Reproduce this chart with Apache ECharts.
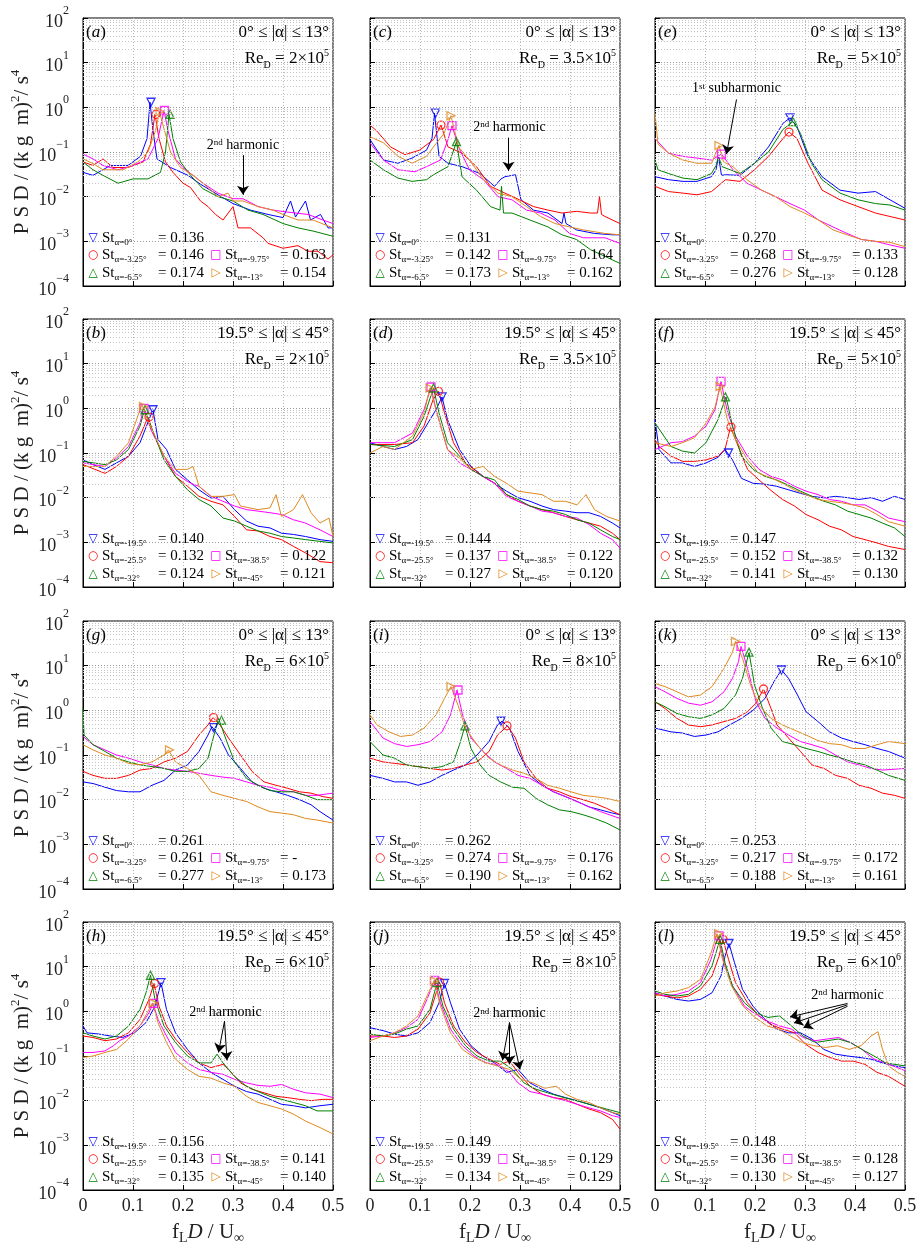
<!DOCTYPE html>
<html>
<head>
<meta charset="utf-8">
<script src="https://cdn.jsdelivr.net/npm/echarts@6.0.0/dist/echarts.min.js"></script>
<style>
  html, body { margin: 0; padding: 0; background: #fff; }
  #chart { width: 922px; height: 1246px; }
</style>
</head>
<body>
<div id="chart"></div>
<script>
// PSD spectra, 12 panels. Each panel: blue, red, magenta, green, orange
// ---- panel (a) Re 2e5, 0..13 deg
const aBlue = [[0,0.035],[0.02,0.03],[0.055,0.05],[0.09,0.05],[0.115,0.08],[0.128,0.2],[0.134,1.3],[0.14,0.3],[0.148,0.07],[0.175,0.045],[0.21,0.03],[0.235,0.019],[0.27,0.011],[0.3,0.007],[0.335,0.005],[0.37,0.004],[0.4,0.0034],[0.415,0.008],[0.425,0.0035],[0.445,0.008],[0.455,0.003],[0.475,0.004],[0.49,0.002],[0.5,0.002]];
const aRed = [[0,0.06],[0.02,0.05],[0.04,0.07],[0.06,0.045],[0.09,0.045],[0.12,0.06],[0.135,0.15],[0.144,0.7],[0.152,0.2],[0.165,0.06],[0.18,0.035],[0.2,0.02],[0.215,0.016],[0.235,0.008],[0.25,0.006],[0.265,0.004],[0.28,0.003],[0.3,0.006],[0.31,0.002],[0.335,0.002],[0.36,0.0012],[0.37,0.0009],[0.4,0.0007],[0.43,0.0008],[0.45,0.0006],[0.47,0.0006],[0.49,0.0004],[0.5,0.0005]];
const aMagenta = [[0,0.09],[0.02,0.07],[0.04,0.05],[0.07,0.04],[0.1,0.05],[0.13,0.07],[0.15,0.2],[0.162,0.85],[0.17,0.3],[0.185,0.07],[0.2,0.045],[0.22,0.03],[0.24,0.02],[0.27,0.012],[0.3,0.009],[0.32,0.009],[0.35,0.006],[0.38,0.005],[0.41,0.0045],[0.45,0.004],[0.48,0.003],[0.5,0.0025]];
const aGreen = [[0,0.06],[0.02,0.04],[0.04,0.03],[0.07,0.02],[0.1,0.025],[0.13,0.025],[0.155,0.035],[0.165,0.1],[0.172,0.7],[0.18,0.2],[0.195,0.06],[0.215,0.03],[0.24,0.015],[0.27,0.01],[0.3,0.008],[0.33,0.005],[0.36,0.004],[0.4,0.0025],[0.43,0.002],[0.46,0.0017],[0.5,0.0013]];
const aOrange = [[0,0.07],[0.02,0.055],[0.04,0.04],[0.08,0.04],[0.11,0.06],[0.13,0.1],[0.145,0.3],[0.153,0.8],[0.16,0.4],[0.175,0.1],[0.195,0.045],[0.22,0.03],[0.24,0.02],[0.27,0.01],[0.29,0.012],[0.3,0.008],[0.32,0.008],[0.35,0.006],[0.38,0.005],[0.4,0.004],[0.43,0.003],[0.46,0.003],[0.5,0.002]];
const stA = [0.136, 0.146, 0.163, 0.174, 0.154];
const pkA = [1.3, 0.7, 0.85, 0.7, 0.8];

// ---- panel (c) Re 3.5e5, 0..13 deg
const cBlue = [[0,0.19],[0.027,0.066],[0.056,0.056],[0.084,0.073],[0.113,0.11],[0.124,0.2],[0.129,0.74],[0.138,0.08],[0.156,0.056],[0.184,0.047],[0.22,0.033],[0.249,0.017],[0.262,0.025],[0.27,0.028],[0.291,0.031],[0.302,0.0085],[0.327,0.005],[0.356,0.0043],[0.384,0.0025],[0.388,0.0043],[0.392,0.0025],[0.413,0.0018],[0.449,0.0015],[0.484,0.0014],[0.5,0.0014]];
const cRed = [[0,0.4],[0.013,0.3],[0.041,0.13],[0.07,0.087],[0.099,0.11],[0.127,0.19],[0.142,0.4],[0.156,0.13],[0.184,0.094],[0.213,0.047],[0.241,0.017],[0.27,0.012],[0.299,0.0085],[0.327,0.006],[0.356,0.005],[0.384,0.0043],[0.413,0.0047],[0.441,0.0043],[0.455,0.0043],[0.459,0.01],[0.463,0.004],[0.47,0.0036],[0.5,0.0025]];
const cMagenta = [[0,0.16],[0.027,0.066],[0.056,0.04],[0.09,0.036],[0.113,0.047],[0.141,0.066],[0.156,0.19],[0.164,0.39],[0.177,0.13],[0.199,0.04],[0.227,0.024],[0.256,0.01],[0.284,0.0085],[0.313,0.005],[0.341,0.0043],[0.37,0.003],[0.399,0.0015],[0.427,0.0012],[0.47,0.0012],[0.5,0.0009]];
const cGreen = [[0,0.066],[0.027,0.04],[0.056,0.026],[0.084,0.022],[0.113,0.024],[0.127,0.031],[0.156,0.047],[0.173,0.17],[0.184,0.028],[0.213,0.014],[0.241,0.006],[0.26,0.005],[0.263,0.017],[0.267,0.0043],[0.284,0.0043],[0.32,0.003],[0.356,0.0021],[0.384,0.0014],[0.413,0.0011],[0.441,0.00065],[0.47,0.00046],[0.5,0.00032]];
const cOrange = [[0,0.22],[0.027,0.16],[0.056,0.08],[0.084,0.056],[0.113,0.08],[0.127,0.13],[0.148,0.26],[0.162,0.65],[0.177,0.13],[0.199,0.066],[0.227,0.024],[0.256,0.012],[0.284,0.01],[0.313,0.006],[0.341,0.0036],[0.37,0.0025],[0.399,0.0021],[0.427,0.0018],[0.47,0.0015],[0.5,0.0014]];
const stC = [0.131, 0.142, 0.164, 0.173, 0.162];
const pkC = [0.74, 0.4, 0.39, 0.17, 0.65];

// ---- panel (e) Re 5e5, 0..13 deg
const eBlue = [[0,0.028],[0.027,0.024],[0.056,0.022],[0.084,0.022],[0.113,0.028],[0.122,0.04],[0.127,0.08],[0.133,0.03],[0.141,0.031],[0.17,0.03],[0.199,0.056],[0.227,0.13],[0.256,0.44],[0.27,0.58],[0.284,0.37],[0.306,0.08],[0.334,0.028],[0.37,0.014],[0.406,0.012],[0.441,0.013],[0.47,0.0085],[0.5,0.0055]];
const eRed = [[0,0.017],[0.027,0.013],[0.056,0.012],[0.084,0.011],[0.113,0.013],[0.141,0.024],[0.17,0.022],[0.199,0.04],[0.227,0.08],[0.256,0.2],[0.268,0.28],[0.284,0.2],[0.306,0.056],[0.334,0.014],[0.37,0.0085],[0.406,0.006],[0.441,0.0043],[0.47,0.0036],[0.5,0.003]];
const eMagenta = [[0,0.2],[0.027,0.094],[0.056,0.08],[0.084,0.073],[0.113,0.066],[0.133,0.09],[0.156,0.04],[0.184,0.02],[0.213,0.014],[0.241,0.01],[0.27,0.007],[0.299,0.005],[0.327,0.003],[0.356,0.0021],[0.384,0.0015],[0.413,0.0011],[0.441,0.001],[0.47,0.00083],[0.5,0.0007]];
const eGreen = [[0,0.066],[0.006,0.04],[0.027,0.033],[0.056,0.026],[0.084,0.024],[0.113,0.033],[0.122,0.05],[0.127,0.08],[0.134,0.047],[0.17,0.033],[0.199,0.056],[0.227,0.1],[0.256,0.32],[0.276,0.48],[0.291,0.26],[0.313,0.056],[0.334,0.024],[0.37,0.012],[0.406,0.0085],[0.441,0.007],[0.47,0.0065],[0.5,0.005]];
const eOrange = [[0,0.74],[0.006,0.15],[0.027,0.094],[0.056,0.066],[0.084,0.056],[0.113,0.056],[0.128,0.14],[0.137,0.06],[0.156,0.047],[0.184,0.024],[0.213,0.014],[0.241,0.01],[0.27,0.006],[0.299,0.0043],[0.327,0.003],[0.356,0.0018],[0.384,0.0014],[0.413,0.0011],[0.441,0.001],[0.47,0.00095],[0.5,0.00076]];
const stE = [0.270, 0.268, 0.133, 0.276, 0.128];
const pkE = [0.58, 0.28, 0.09, 0.48, 0.14];

// ---- panel (b) Re 2e5, 19.5..45 deg
const bBlue = [[0,0.07],[0.02,0.055],[0.044,0.043],[0.067,0.06],[0.091,0.085],[0.114,0.17],[0.132,0.56],[0.14,0.93],[0.15,0.2],[0.167,0.12],[0.185,0.043],[0.209,0.025],[0.232,0.015],[0.256,0.0098],[0.28,0.0107],[0.303,0.0054],[0.327,0.003],[0.35,0.0023],[0.374,0.0021],[0.397,0.0016],[0.421,0.0015],[0.445,0.00135],[0.474,0.00115],[0.5,0.00105]];
const bRed = [[0,0.055],[0.044,0.035],[0.067,0.05],[0.091,0.085],[0.114,0.24],[0.13,0.64],[0.14,0.28],[0.162,0.085],[0.185,0.03],[0.209,0.018],[0.232,0.0107],[0.256,0.0083],[0.28,0.0069],[0.303,0.0038],[0.327,0.0019],[0.35,0.0018],[0.374,0.00135],[0.397,0.00115],[0.421,0.00081],[0.445,0.00058],[0.474,0.00037],[0.5,0.00035]];
const bMagenta = [[0,0.06],[0.044,0.05],[0.067,0.077],[0.091,0.14],[0.114,0.47],[0.121,1.0],[0.136,0.33],[0.162,0.085],[0.185,0.035],[0.209,0.023],[0.22,0.02],[0.232,0.018],[0.256,0.0107],[0.28,0.0083],[0.303,0.0065],[0.327,0.0054],[0.35,0.005],[0.374,0.0046],[0.397,0.0042],[0.421,0.0032],[0.445,0.0027],[0.474,0.0019],[0.5,0.00135]];
const bGreen = [[0,0.065],[0.044,0.055],[0.067,0.07],[0.091,0.12],[0.114,0.4],[0.123,0.93],[0.136,0.4],[0.162,0.07],[0.185,0.03],[0.209,0.015],[0.232,0.0091],[0.256,0.0065],[0.28,0.0035],[0.303,0.003],[0.327,0.0023],[0.35,0.0018],[0.374,0.0016],[0.397,0.00135],[0.421,0.00125],[0.445,0.00115],[0.474,0.00105],[0.5,0.00097]];
const bOrange = [[0,0.05],[0.044,0.05],[0.067,0.085],[0.091,0.17],[0.114,0.93],[0.118,1.2],[0.132,0.47],[0.162,0.085],[0.185,0.043],[0.209,0.043],[0.22,0.05],[0.232,0.018],[0.256,0.0107],[0.28,0.0107],[0.303,0.0117],[0.315,0.0065],[0.35,0.0054],[0.374,0.0059],[0.386,0.0117],[0.397,0.0038],[0.421,0.0054],[0.439,0.0117],[0.456,0.0046],[0.474,0.0027],[0.492,0.0035],[0.5,0.00135]];
const stB = [0.140, 0.132, 0.122, 0.124, 0.121];
const pkB = [0.93, 0.64, 1.0, 0.93, 1.1];

// ---- panel (d) Re 3.5e5, 19.5..45 deg
const dBlue = [[0,0.17],[0.026,0.14],[0.049,0.12],[0.073,0.14],[0.096,0.2],[0.12,0.56],[0.132,0.93],[0.144,1.8],[0.155,0.56],[0.179,0.12],[0.202,0.05],[0.226,0.03],[0.249,0.021],[0.273,0.014],[0.296,0.01],[0.32,0.0083],[0.344,0.0065],[0.367,0.0054],[0.391,0.005],[0.414,0.0046],[0.438,0.0046],[0.461,0.0038],[0.485,0.0027],[0.5,0.0021]];
const dRed = [[0,0.155],[0.049,0.155],[0.085,0.17],[0.108,0.4],[0.126,1.55],[0.137,2.4],[0.149,0.79],[0.167,0.17],[0.191,0.06],[0.226,0.03],[0.249,0.021],[0.273,0.0117],[0.296,0.0083],[0.32,0.0065],[0.344,0.0054],[0.367,0.0046],[0.391,0.0038],[0.414,0.0032],[0.438,0.0027],[0.461,0.0023],[0.485,0.0016],[0.5,0.00115]];
const dMagenta = [[0,0.17],[0.049,0.17],[0.085,0.28],[0.108,0.93],[0.122,3.0],[0.132,0.93],[0.155,0.12],[0.179,0.06],[0.202,0.043],[0.226,0.03],[0.249,0.021],[0.273,0.0107],[0.296,0.0083],[0.32,0.0065],[0.344,0.005],[0.367,0.0046],[0.391,0.0038],[0.414,0.0035],[0.438,0.0025],[0.461,0.0016],[0.485,0.00115],[0.5,0.00074]];
const dGreen = [[0,0.155],[0.049,0.14],[0.085,0.2],[0.108,0.66],[0.127,2.85],[0.138,0.79],[0.155,0.17],[0.179,0.085],[0.202,0.043],[0.226,0.03],[0.249,0.025],[0.273,0.0117],[0.296,0.0091],[0.32,0.0065],[0.344,0.0054],[0.367,0.005],[0.391,0.0042],[0.414,0.0032],[0.438,0.0027],[0.461,0.0019],[0.485,0.00135],[0.5,0.00115]];
const dOrange = [[0,0.1],[0.026,0.14],[0.049,0.12],[0.085,0.24],[0.108,0.79],[0.12,2.85],[0.132,0.93],[0.155,0.12],[0.179,0.077],[0.202,0.043],[0.226,0.05],[0.249,0.03],[0.273,0.021],[0.296,0.014],[0.32,0.0128],[0.344,0.0117],[0.367,0.0083],[0.391,0.0083],[0.414,0.0069],[0.432,0.0117],[0.449,0.0054],[0.473,0.0038],[0.5,0.003]];
const stD = [0.144, 0.137, 0.122, 0.127, 0.120];
const pkD = [1.8, 2.4, 3.0, 2.85, 2.85];

// ---- panel (f) Re 5e5, 19.5..45 deg
const fBlue = [[0,0.56],[0.008,0.12],[0.032,0.06],[0.055,0.06],[0.079,0.05],[0.102,0.06],[0.126,0.08],[0.14,0.12],[0.155,0.07],[0.173,0.027],[0.196,0.021],[0.22,0.02],[0.243,0.018],[0.267,0.015],[0.291,0.0125],[0.314,0.0107],[0.338,0.0099],[0.361,0.0107],[0.385,0.01],[0.408,0.0091],[0.432,0.01],[0.455,0.0083],[0.479,0.0107],[0.5,0.0091]];
const fRed = [[0,0.2],[0.008,0.14],[0.032,0.085],[0.055,0.065],[0.079,0.065],[0.102,0.07],[0.126,0.085],[0.14,0.12],[0.151,0.38],[0.161,0.2],[0.185,0.043],[0.208,0.025],[0.232,0.0145],[0.255,0.0091],[0.279,0.0065],[0.302,0.0042],[0.326,0.0032],[0.349,0.0023],[0.373,0.0019],[0.396,0.00135],[0.42,0.00115],[0.444,0.00097],[0.467,0.00081],[0.5,0.00069]];
const fMagenta = [[0,0.12],[0.032,0.17],[0.055,0.18],[0.079,0.24],[0.102,0.4],[0.12,0.93],[0.132,4.0],[0.144,0.93],[0.161,0.24],[0.185,0.085],[0.208,0.043],[0.232,0.03],[0.255,0.025],[0.279,0.018],[0.302,0.014],[0.326,0.0117],[0.349,0.0091],[0.373,0.0083],[0.396,0.0069],[0.42,0.0069],[0.444,0.005],[0.467,0.0035],[0.5,0.0029]];
const fGreen = [[0,0.47],[0.032,0.14],[0.055,0.11],[0.079,0.1],[0.102,0.17],[0.126,0.56],[0.142,1.8],[0.155,0.4],[0.173,0.085],[0.196,0.043],[0.22,0.03],[0.243,0.025],[0.267,0.019],[0.291,0.014],[0.314,0.0107],[0.338,0.0083],[0.361,0.0069],[0.385,0.005],[0.408,0.0042],[0.432,0.0035],[0.455,0.0027],[0.479,0.0021],[0.5,0.00135]];
const fOrange = [[0,0.17],[0.032,0.14],[0.055,0.17],[0.079,0.22],[0.102,0.47],[0.12,1.05],[0.13,3.1],[0.144,0.6],[0.161,0.2],[0.185,0.07],[0.208,0.035],[0.232,0.028],[0.255,0.021],[0.279,0.015],[0.302,0.0117],[0.326,0.0091],[0.349,0.0083],[0.373,0.0077],[0.396,0.0069],[0.42,0.0059],[0.444,0.0042],[0.467,0.0029],[0.5,0.0023]];
const stF = [0.147, 0.152, 0.132, 0.141, 0.130];
const pkF = [0.1, 0.38, 4.0, 1.8, 3.1];

// ---- panel (g) Re 6e5, 0..13 deg
const gBlue = [[0,0.025],[0.02,0.023],[0.044,0.019],[0.067,0.016],[0.091,0.015],[0.114,0.015],[0.138,0.021],[0.162,0.027],[0.185,0.046],[0.209,0.06],[0.232,0.12],[0.25,0.28],[0.258,0.43],[0.274,0.24],[0.291,0.1],[0.315,0.05],[0.338,0.025],[0.362,0.018],[0.386,0.015],[0.409,0.0125],[0.433,0.01],[0.456,0.0077],[0.474,0.0054],[0.5,0.0035]];
const gRed = [[0,0.043],[0.02,0.035],[0.044,0.03],[0.067,0.03],[0.091,0.035],[0.114,0.046],[0.138,0.05],[0.162,0.07],[0.185,0.085],[0.209,0.12],[0.232,0.28],[0.25,0.47],[0.26,0.69],[0.274,0.47],[0.291,0.24],[0.315,0.1],[0.338,0.043],[0.362,0.025],[0.386,0.021],[0.409,0.018],[0.433,0.015],[0.456,0.014],[0.48,0.0117],[0.5,0.0107]];
const gMagenta = [[0,0.26],[0.02,0.17],[0.044,0.13],[0.067,0.1],[0.091,0.085],[0.114,0.07],[0.138,0.06],[0.162,0.05],[0.185,0.046],[0.209,0.043],[0.232,0.039],[0.256,0.035],[0.28,0.032],[0.303,0.03],[0.327,0.025],[0.35,0.021],[0.374,0.019],[0.397,0.016],[0.421,0.015],[0.445,0.0125],[0.468,0.0125],[0.5,0.014]];
const gGreen = [[0,1.1],[0.002,0.28],[0.02,0.17],[0.044,0.12],[0.067,0.085],[0.091,0.07],[0.114,0.06],[0.138,0.055],[0.162,0.05],[0.185,0.043],[0.209,0.043],[0.232,0.05],[0.25,0.085],[0.262,0.28],[0.271,0.66],[0.285,0.24],[0.303,0.07],[0.327,0.03],[0.35,0.021],[0.374,0.016],[0.397,0.015],[0.421,0.015],[0.445,0.0125],[0.468,0.01],[0.5,0.01]];
const gOrange = [[0,0.17],[0.02,0.13],[0.044,0.1],[0.067,0.085],[0.091,0.065],[0.114,0.06],[0.138,0.07],[0.162,0.1],[0.171,0.13],[0.185,0.07],[0.209,0.05],[0.232,0.035],[0.256,0.015],[0.28,0.0125],[0.303,0.0107],[0.327,0.0091],[0.35,0.0069],[0.374,0.0054],[0.397,0.005],[0.421,0.0046],[0.445,0.0038],[0.468,0.0035],[0.5,0.003]];
const stG = [0.261, 0.261, null, 0.277, 0.173];
const pkG = [0.41, 0.69, null, 0.6, 0.13];

// ---- panel (i) Re 8e5, 0..13 deg
const iBlue = [[0,0.035],[0.026,0.03],[0.049,0.025],[0.073,0.025],[0.096,0.021],[0.12,0.025],[0.144,0.035],[0.167,0.046],[0.191,0.06],[0.214,0.1],[0.238,0.2],[0.255,0.47],[0.264,0.57],[0.279,0.4],[0.296,0.12],[0.32,0.035],[0.344,0.021],[0.367,0.015],[0.391,0.0117],[0.414,0.0091],[0.438,0.0069],[0.461,0.0059],[0.485,0.005],[0.5,0.0046]];
const iRed = [[0,0.085],[0.026,0.07],[0.049,0.065],[0.073,0.06],[0.096,0.055],[0.12,0.05],[0.144,0.046],[0.167,0.05],[0.191,0.06],[0.214,0.07],[0.238,0.12],[0.255,0.28],[0.275,0.45],[0.291,0.24],[0.308,0.07],[0.332,0.03],[0.355,0.018],[0.379,0.015],[0.402,0.0117],[0.426,0.01],[0.449,0.0083],[0.473,0.0064],[0.5,0.0046]];
const iMagenta = [[0,0.56],[0.026,0.24],[0.049,0.18],[0.073,0.155],[0.096,0.17],[0.12,0.2],[0.144,0.33],[0.161,0.79],[0.174,2.85],[0.185,0.79],[0.202,0.24],[0.226,0.12],[0.249,0.07],[0.273,0.05],[0.296,0.035],[0.32,0.03],[0.344,0.021],[0.367,0.015],[0.391,0.0117],[0.414,0.0091],[0.438,0.0069],[0.461,0.0054],[0.5,0.0038]];
const iGreen = [[0,0.2],[0.026,0.1],[0.049,0.085],[0.073,0.06],[0.096,0.055],[0.12,0.05],[0.144,0.055],[0.167,0.07],[0.179,0.17],[0.19,0.45],[0.202,0.14],[0.22,0.06],[0.238,0.035],[0.261,0.025],[0.285,0.019],[0.308,0.018],[0.332,0.0107],[0.355,0.0077],[0.379,0.0059],[0.402,0.0054],[0.426,0.0046],[0.449,0.0038],[0.473,0.003],[0.5,0.0021]];
const iOrange = [[0,0.79],[0.014,0.47],[0.038,0.33],[0.061,0.26],[0.085,0.28],[0.108,0.4],[0.132,0.79],[0.149,1.85],[0.162,3.4],[0.176,1.3],[0.191,0.4],[0.214,0.17],[0.238,0.085],[0.261,0.06],[0.285,0.046],[0.308,0.039],[0.332,0.03],[0.355,0.021],[0.379,0.018],[0.402,0.015],[0.426,0.0125],[0.449,0.0117],[0.473,0.0107],[0.5,0.0091]];
const stI = [0.262, 0.274, 0.176, 0.190, 0.162];
const pkI = [0.57, 0.45, 2.85, 0.45, 3.4];

// ---- panel (k) Re 6e6, 0..13 deg
const kBlue = [[0,0.4],[0.032,0.33],[0.055,0.31],[0.079,0.26],[0.102,0.28],[0.126,0.33],[0.149,0.47],[0.173,0.66],[0.196,1.0],[0.22,1.85],[0.238,4.4],[0.253,8],[0.267,5.2],[0.285,2.2],[0.302,0.93],[0.326,0.56],[0.349,0.33],[0.373,0.24],[0.396,0.2],[0.42,0.17],[0.444,0.14],[0.467,0.12],[0.5,0.085]];
const kRed = [[0,1.55],[0.02,1.1],[0.044,0.66],[0.067,0.47],[0.091,0.43],[0.114,0.47],[0.138,0.56],[0.161,0.66],[0.185,0.93],[0.202,1.45],[0.217,3.0],[0.232,1.1],[0.244,0.47],[0.267,0.24],[0.291,0.12],[0.314,0.06],[0.338,0.05],[0.361,0.035],[0.385,0.03],[0.408,0.021],[0.432,0.018],[0.455,0.014],[0.479,0.0125],[0.5,0.0107]];
const kMagenta = [[0,3.4],[0.02,2.6],[0.044,1.85],[0.067,1.45],[0.091,1.3],[0.114,1.55],[0.138,2.6],[0.155,5.2],[0.167,12.3],[0.172,27],[0.185,8.7],[0.202,1.55],[0.22,0.66],[0.244,0.4],[0.267,0.28],[0.291,0.2],[0.314,0.17],[0.338,0.14],[0.361,0.1],[0.385,0.07],[0.408,0.06],[0.432,0.05],[0.455,0.046],[0.5,0.05]];
const kGreen = [[0,1.55],[0.02,1.2],[0.044,0.85],[0.067,0.72],[0.091,0.66],[0.114,0.79],[0.138,1.1],[0.161,2.2],[0.175,5.2],[0.188,20],[0.199,3.7],[0.214,1.2],[0.232,0.4],[0.255,0.2],[0.279,0.17],[0.302,0.14],[0.326,0.12],[0.349,0.1],[0.373,0.085],[0.396,0.07],[0.42,0.06],[0.444,0.046],[0.467,0.035],[0.5,0.027]];
const kOrange = [[0,4],[0.02,3.4],[0.044,2.6],[0.067,2.0],[0.091,2.2],[0.114,3.4],[0.138,8.7],[0.155,20],[0.161,35],[0.175,14.6],[0.191,3.7],[0.208,1.3],[0.232,0.66],[0.255,0.47],[0.279,0.36],[0.302,0.28],[0.326,0.21],[0.349,0.18],[0.373,0.17],[0.396,0.14],[0.42,0.14],[0.444,0.17],[0.467,0.2],[0.5,0.18]];
const stK = [0.253, 0.217, 0.172, 0.188, 0.161];
const pkK = [8, 3.0, 27, 20, 35];

// ---- panel (h) Re 6e5, 19.5..45 deg
const hBlue = [[0,0.47],[0.008,0.33],[0.032,0.31],[0.055,0.28],[0.079,0.26],[0.103,0.33],[0.126,0.56],[0.144,1.3],[0.156,4.4],[0.167,1.1],[0.185,0.33],[0.209,0.14],[0.232,0.07],[0.256,0.043],[0.28,0.03],[0.303,0.021],[0.327,0.016],[0.35,0.014],[0.374,0.0107],[0.397,0.0083],[0.421,0.0077],[0.445,0.0069],[0.474,0.0077],[0.5,0.0083]];
const hRed = [[0,0.28],[0.02,0.26],[0.044,0.22],[0.067,0.24],[0.091,0.33],[0.114,0.66],[0.132,1.85],[0.142,4.2],[0.152,1.3],[0.167,0.47],[0.185,0.24],[0.209,0.12],[0.232,0.07],[0.256,0.055],[0.28,0.065],[0.291,0.05],[0.315,0.025],[0.338,0.018],[0.362,0.015],[0.386,0.0125],[0.409,0.0117],[0.433,0.0107],[0.456,0.01],[0.48,0.0107],[0.5,0.0107]];
const hMagenta = [[0,0.12],[0.02,0.12],[0.044,0.13],[0.061,0.17],[0.073,0.22],[0.091,0.28],[0.114,0.47],[0.132,0.93],[0.14,1.5],[0.15,0.66],[0.167,0.28],[0.185,0.12],[0.209,0.07],[0.232,0.05],[0.256,0.043],[0.28,0.039],[0.303,0.03],[0.327,0.025],[0.35,0.022],[0.374,0.021],[0.397,0.023],[0.421,0.018],[0.445,0.015],[0.474,0.014],[0.5,0.0117]];
const hGreen = [[0,0.33],[0.02,0.28],[0.044,0.24],[0.067,0.28],[0.091,0.47],[0.114,1.1],[0.126,2.6],[0.135,6.4],[0.144,1.85],[0.162,0.47],[0.185,0.2],[0.209,0.1],[0.232,0.07],[0.256,0.07],[0.268,0.11],[0.28,0.07],[0.303,0.035],[0.327,0.021],[0.35,0.016],[0.374,0.0125],[0.397,0.0107],[0.421,0.0091],[0.445,0.0077],[0.468,0.0059],[0.5,0.0059]];
const hOrange = [[0,0.093],[0.02,0.1],[0.044,0.12],[0.067,0.14],[0.091,0.24],[0.114,0.47],[0.132,1.1],[0.139,1.55],[0.15,0.56],[0.167,0.2],[0.185,0.085],[0.209,0.05],[0.232,0.035],[0.256,0.032],[0.28,0.025],[0.303,0.021],[0.327,0.0125],[0.35,0.0091],[0.374,0.0077],[0.397,0.0065],[0.421,0.005],[0.445,0.0035],[0.474,0.0025],[0.5,0.0018]];
const stH = [0.156, 0.143, 0.141, 0.135, 0.140];
const pkH = [4.4, 4.2, 1.5, 6.4, 1.55];

// ---- panel (j) Re 8e5, 19.5..45 deg
const jBlue = [[0,0.43],[0.026,0.37],[0.049,0.31],[0.073,0.28],[0.096,0.33],[0.12,0.56],[0.138,1.55],[0.149,4.2],[0.161,1.55],[0.179,0.4],[0.202,0.17],[0.226,0.1],[0.249,0.07],[0.273,0.043],[0.296,0.05],[0.32,0.025],[0.344,0.018],[0.367,0.014],[0.391,0.0117],[0.414,0.01],[0.438,0.0083],[0.461,0.0069],[0.485,0.0054],[0.5,0.0046]];
const jRed = [[0,0.28],[0.026,0.28],[0.049,0.26],[0.073,0.28],[0.096,0.4],[0.12,0.93],[0.139,4.5],[0.149,1.55],[0.167,0.47],[0.191,0.2],[0.214,0.12],[0.238,0.085],[0.261,0.065],[0.279,0.077],[0.296,0.043],[0.32,0.021],[0.344,0.014],[0.367,0.0117],[0.391,0.0107],[0.414,0.0083],[0.438,0.0065],[0.461,0.0054],[0.485,0.0038],[0.5,0.0023]];
const jMagenta = [[0,0.26],[0.026,0.28],[0.049,0.33],[0.073,0.43],[0.096,0.66],[0.114,1.85],[0.129,4.9],[0.141,1.55],[0.161,0.4],[0.185,0.17],[0.208,0.1],[0.232,0.07],[0.255,0.065],[0.279,0.043],[0.296,0.025],[0.32,0.016],[0.344,0.014],[0.367,0.0117],[0.391,0.01],[0.414,0.0083],[0.438,0.0069],[0.461,0.0059],[0.485,0.0046],[0.5,0.0042]];
const jGreen = [[0,0.31],[0.026,0.28],[0.049,0.31],[0.073,0.4],[0.096,0.47],[0.12,1.1],[0.134,4.4],[0.146,1.3],[0.167,0.4],[0.191,0.17],[0.214,0.1],[0.238,0.077],[0.261,0.077],[0.285,0.05],[0.308,0.025],[0.332,0.018],[0.355,0.015],[0.379,0.0125],[0.402,0.0107],[0.426,0.0091],[0.449,0.0077],[0.473,0.0065],[0.5,0.0054]];
const jOrange = [[0,0.22],[0.026,0.28],[0.049,0.33],[0.073,0.47],[0.096,0.79],[0.114,2.2],[0.128,4.8],[0.141,1.3],[0.161,0.33],[0.185,0.14],[0.208,0.093],[0.232,0.07],[0.255,0.06],[0.279,0.05],[0.302,0.03],[0.326,0.025],[0.349,0.019],[0.373,0.021],[0.391,0.014],[0.414,0.0107],[0.438,0.0091],[0.461,0.0069],[0.485,0.0054],[0.5,0.005]];
const stJ = [0.149, 0.139, 0.129, 0.134, 0.129];
const pkJ = [4.2, 4.5, 4.9, 4.4, 4.8];

// ---- panel (l) Re 6e6, 19.5..45 deg
const lBlue = [[0,2.6],[0.02,2.2],[0.044,1.85],[0.067,1.7],[0.091,1.85],[0.114,2.6],[0.132,6.2],[0.14,17],[0.148,33],[0.159,12.3],[0.175,3.1],[0.196,1.3],[0.22,0.66],[0.244,0.4],[0.267,0.33],[0.291,0.33],[0.314,0.24],[0.338,0.14],[0.361,0.11],[0.385,0.1],[0.408,0.093],[0.432,0.085],[0.455,0.07],[0.479,0.06],[0.5,0.055]];
const lRed = [[0,2.4],[0.02,2.2],[0.044,2.0],[0.067,2.2],[0.091,3.1],[0.114,6.2],[0.128,17],[0.136,41],[0.147,14.6],[0.161,4.4],[0.185,1.55],[0.208,0.79],[0.232,0.5],[0.255,0.4],[0.279,0.33],[0.302,0.18],[0.326,0.12],[0.349,0.093],[0.373,0.077],[0.396,0.077],[0.42,0.065],[0.444,0.043],[0.467,0.035],[0.5,0.021]];
const lMagenta = [[0,2.6],[0.02,2.2],[0.044,2.4],[0.067,2.85],[0.091,4.4],[0.112,14.6],[0.126,49],[0.138,12.3],[0.155,3.7],[0.179,1.3],[0.202,0.85],[0.226,0.6],[0.249,0.47],[0.273,0.4],[0.296,0.26],[0.32,0.22],[0.344,0.24],[0.367,0.26],[0.391,0.2],[0.414,0.14],[0.438,0.085],[0.461,0.07],[0.5,0.047]];
const lGreen = [[0,2.85],[0.02,2.4],[0.044,2.2],[0.067,2.4],[0.091,3.7],[0.114,10.4],[0.13,41],[0.14,12.3],[0.155,3.7],[0.179,1.55],[0.202,0.93],[0.226,0.73],[0.249,0.79],[0.273,0.47],[0.296,0.28],[0.32,0.2],[0.344,0.22],[0.367,0.24],[0.391,0.2],[0.414,0.14],[0.438,0.1],[0.461,0.07],[0.5,0.06]];
const lOrange = [[0,2.2],[0.02,2.6],[0.044,2.85],[0.067,3.4],[0.091,5.2],[0.112,20],[0.124,55],[0.135,14.6],[0.153,3.7],[0.176,1.3],[0.2,0.73],[0.224,0.47],[0.247,0.4],[0.271,0.28],[0.294,0.2],[0.318,0.17],[0.341,0.155],[0.365,0.17],[0.388,0.14],[0.412,0.17],[0.432,0.28],[0.446,0.35],[0.455,0.14],[0.467,0.06],[0.485,0.043],[0.5,0.035]];
const stL = [0.148, 0.136, 0.128, 0.130, 0.127];
const pkL = [33, 41, 49, 41, 55];

// legend labels (order: blue, red, magenta, green, orange)
const anglesSmall = ['0°', '-3.25°', '-9.75°', '-6.5°', '-13°'];
const anglesLarge = ['-19.5°', '-25.5°', '-38.5°', '-32°', '-45°'];
const rangeSmall = '0° ≤ |α| ≤ 13°';
const rangeLarge = '19.5° ≤ |α| ≤ 45°';

const colors = ['#0000ff', '#ff0000', '#ff00ff', '#008000', '#e0891e'];
const FONT = '"Liberation Serif", "Times New Roman", serif';

const colLeft = [83, 370, 655];
const rowTop = [18, 319, 621, 922];
const W = 250, H = 268;

const panels = [
  { id: 'a', col: 0, row: 0, small: true, re: ['2', '5'], lines: [aBlue, aRed, aMagenta, aGreen, aOrange], st: stA, pk: pkA,
    note: { text: '2{sup|nd} harmonic', at: [0.32, 0.14], arrows: [[0.32, 0.085, 0.32, 0.011]] } },
  { id: 'c', col: 1, row: 0, small: true, re: ['3.5', '5'], lines: [cBlue, cRed, cMagenta, cGreen, cOrange], st: stC, pk: pkC,
    note: { text: '2{sup|nd} harmonic', at: [0.279, 0.36], arrows: [[0.277, 0.21, 0.277, 0.038]] } },
  { id: 'e', col: 2, row: 0, small: true, re: ['5', '5'], lines: [eBlue, eRed, eMagenta, eGreen, eOrange], st: stE, pk: pkE,
    note: { text: '1{sup|st} subharmonic', at: [0.163, 2.6], arrows: [[0.163, 1.5, 0.143, 0.09]] } },
  { id: 'b', col: 0, row: 1, small: false, re: ['2', '5'], lines: [bBlue, bRed, bMagenta, bGreen, bOrange], st: stB, pk: pkB },
  { id: 'd', col: 1, row: 1, small: false, re: ['3.5', '5'], lines: [dBlue, dRed, dMagenta, dGreen, dOrange], st: stD, pk: pkD },
  { id: 'f', col: 2, row: 1, small: false, re: ['5', '5'], lines: [fBlue, fRed, fMagenta, fGreen, fOrange], st: stF, pk: pkF },
  { id: 'g', col: 0, row: 2, small: true, re: ['6', '5'], lines: [gBlue, gRed, gMagenta, gGreen, gOrange], st: stG, pk: pkG },
  { id: 'i', col: 1, row: 2, small: true, re: ['8', '5'], lines: [iBlue, iRed, iMagenta, iGreen, iOrange], st: stI, pk: pkI },
  { id: 'k', col: 2, row: 2, small: true, re: ['6', '6'], lines: [kBlue, kRed, kMagenta, kGreen, kOrange], st: stK, pk: pkK },
  { id: 'h', col: 0, row: 3, small: false, re: ['6', '5'], lines: [hBlue, hRed, hMagenta, hGreen, hOrange], st: stH, pk: pkH,
    note: { text: '2{sup|nd} harmonic', at: [0.285, 0.95], arrows: [[0.283, 0.6, 0.271, 0.12], [0.283, 0.6, 0.288, 0.08]] } },
  { id: 'j', col: 1, row: 3, small: false, re: ['8', '5'], lines: [jBlue, jRed, jMagenta, jGreen, jOrange], st: stJ, pk: pkJ,
    note: { text: '2{sup|nd} harmonic', at: [0.279, 0.88], arrows: [[0.279, 0.56, 0.265, 0.08], [0.279, 0.56, 0.279, 0.065], [0.279, 0.56, 0.3, 0.05]] } },
  { id: 'l', col: 2, row: 3, small: false, re: ['6', '6'], lines: [lBlue, lRed, lMagenta, lGreen, lOrange], st: stL, pk: pkL,
    note: { text: '2{sup|nd} harmonic', at: [0.385, 2.3], arrows: [[0.385, 1.5, 0.27, 0.75], [0.385, 1.4, 0.278, 0.55], [0.385, 1.3, 0.297, 0.43]] } }
];

// marker shapes: blue down-triangle, red circle, magenta square, green up-triangle, orange right-triangle
const markSym = [
  { symbol: 'triangle', rotate: 180 }, { symbol: 'circle', rotate: 0 }, { symbol: 'rect', rotate: 0 },
  { symbol: 'triangle', rotate: 0 }, { symbol: 'triangle', rotate: -90 }
];
const legendGlyph = ['▽', '○', '□', '△', '▷'];
// legend slot (row, col) per series
const legendSlot = [[0, 0], [1, 0], [1, 1], [2, 0], [2, 1]];

const minorVals = [];
for (let e = -4; e < 2; e++) for (let m = 2; m <= 9; m++) minorVals.push(m * Math.pow(10, e));

const grids = [], xAxes = [], yAxes = [], series = [], graphics = [];
const supRich = {
  sup: { fontSize: 10, fontFamily: FONT, fill: '#000', color: '#000', verticalAlign: 'top', lineHeight: 10 },
  sub: { fontSize: 10, fontFamily: FONT, fill: '#000', color: '#000', verticalAlign: 'bottom', lineHeight: 10 },
  it: { fontSize: 17, fontFamily: FONT, fontStyle: 'italic', fill: '#000', color: '#000', lineHeight: 22 }
};

panels.forEach((p, i) => {
  const L = colLeft[p.col], T = rowTop[p.row];
  grids.push({ left: L, top: T, width: W, height: H, show: true, borderColor: '#000', borderWidth: 1, backgroundColor: 'transparent' });
  xAxes.push({
    gridIndex: i, type: 'value', min: 0, max: 0.5, interval: 0.1,
    axisLine: { show: true, lineStyle: { color: '#000', width: 1 } },
    axisTick: { show: true, inside: true, length: 5, lineStyle: { color: '#000' } },
    axisLabel: { show: p.row === 3, fontFamily: FONT, fontSize: 18, color: '#222', margin: 7,
      formatter: v => (v === 0 ? '0' : v.toFixed(1)) },
    splitLine: { show: true, lineStyle: { type: [1, 2], color: '#b5b5b5', width: 1 } }
  });
  yAxes.push({
    gridIndex: i, type: 'log', logBase: 10, min: 1e-4, max: 1e2,
    axisLine: { show: true, lineStyle: { color: '#000', width: 1 } },
    axisTick: { show: true, inside: true, length: 5, lineStyle: { color: '#000' } },
    axisLabel: {
      show: p.col === 0, margin: 14,
      formatter: v => {
        const e = Math.round(Math.log10(v));
        return '{b|10}{s|' + (e < 0 ? '−' + (-e) : e) + '}';
      },
      rich: {
        b: { fontFamily: FONT, fontSize: 18, color: '#222', lineHeight: 26, verticalAlign: 'bottom' },
        s: { fontFamily: FONT, fontSize: 12, color: '#222', lineHeight: 12, verticalAlign: 'top' }
      }
    },
    splitLine: { show: true, lineStyle: { type: [1, 2], color: '#9a9a9a', width: 1 } }
  });

  // minor grid lines at 2..9 x 10^n
  series.push({
    type: 'line', xAxisIndex: i, yAxisIndex: i, data: [[0, 1e-4]], showSymbol: false, silent: true,
    lineStyle: { opacity: 0 }, z: 1, animation: false,
    markLine: {
      silent: true, symbol: 'none', animation: false, label: { show: false },
      lineStyle: { type: [1, 2], color: '#c4c4c4', width: 1 },
      data: minorVals.map(v => ({ yAxis: v }))
    }
  });

  p.lines.forEach((d, k) => {
    series.push({
      type: 'line', xAxisIndex: i, yAxisIndex: i, data: d, showSymbol: false, animation: false,
      lineStyle: { color: colors[k], width: 1 }, z: 3, silent: true
    });
  });

  const pts = [];
  p.st.forEach((s, k) => {
    if (s == null) return;
    pts.push({
      value: [s, p.pk[k]], symbol: markSym[k].symbol, symbolRotate: markSym[k].rotate,
      itemStyle: { color: 'rgba(0,0,0,0)', borderColor: colors[k], borderWidth: 1.3 }
    });
  });
  series.push({ type: 'scatter', xAxisIndex: i, yAxisIndex: i, data: pts, symbolSize: 8, z: 4, silent: true, animation: false });

  if (p.note) {
    series.push({
      type: 'line', xAxisIndex: i, yAxisIndex: i, data: [[0, 1e-4]], showSymbol: false, silent: true,
      lineStyle: { opacity: 0 }, z: 5, animation: false,
      markLine: {
        silent: true, animation: false, symbol: ['none', 'arrow'], symbolSize: 9, label: { show: false },
        lineStyle: { type: 'solid', color: '#000', width: 1 },
        data: p.note.arrows.map(a => [{ coord: [a[0], a[1]] }, { coord: [a[2], a[3]] }])
      },
      markPoint: {
        silent: true, animation: false, symbol: 'rect', symbolSize: 1, itemStyle: { color: 'rgba(0,0,0,0)' },
        label: { show: true, position: 'inside', formatter: p.note.text, fontFamily: FONT, fontSize: 14, color: '#000',
          rich: { sup: { fontFamily: FONT, fontSize: 9, color: '#000', verticalAlign: 'top', lineHeight: 9 } } },
        data: [{ coord: p.note.at }]
      }
    });
  }

  // panel letter and header
  graphics.push({ type: 'text', z: 10, style: { x: L + 3, y: T + 15, text: '({it|' + p.id + '})', fontFamily: FONT, fontSize: 17,
    fill: '#000', textVerticalAlign: 'middle', verticalAlign: 'middle', rich: supRich } });
  graphics.push({ type: 'text', z: 10, style: { x: L + W - 4, y: T + 15, text: p.small ? rangeSmall : rangeLarge, fontFamily: FONT, fontSize: 17,
    fill: '#000', textAlign: 'right', align: 'right', textVerticalAlign: 'middle', verticalAlign: 'middle' } });
  graphics.push({ type: 'text', z: 10, style: { x: L + W - 4, y: T + 41,
    text: 'Re{sub|D} = ' + p.re[0] + '×10{sup|' + p.re[1] + '}', fontFamily: FONT, fontSize: 17, lineHeight: 22,
    fill: '#000', textAlign: 'right', align: 'right', textVerticalAlign: 'middle', verticalAlign: 'middle', rich: supRich } });

  // legend block
  const B = T + H;
  const rowY = [B - 48, B - 31, B - 13];
  const ang = p.small ? anglesSmall : anglesLarge;
  const legRich = {
    sub: { fontFamily: FONT, fontSize: 9, fill: '#000', verticalAlign: 'bottom', lineHeight: 9 }
  };
  [0, 1, 2, 3, 4].forEach(k => {
    const [r, c] = legendSlot[k];
    const y = rowY[r];
    const mx = c === 0 ? L + 10 : L + 133;
    const tx = c === 0 ? L + 19 : L + 142;
    const vx = c === 0 ? L + 75 : L + 197;
    graphics.push({ type: 'text', z: 10, style: { x: mx, y: y, text: legendGlyph[k], fontFamily: 'DejaVu Sans', fontSize: 12,
      fill: colors[k], textAlign: 'center', align: 'center', textVerticalAlign: 'middle', verticalAlign: 'middle' } });
    graphics.push({ type: 'text', z: 10, style: { x: tx, y: y, text: 'St{sub|α=' + ang[k] + '}', fontFamily: FONT, fontSize: 15, lineHeight: 18,
      fill: '#000', textVerticalAlign: 'middle', verticalAlign: 'middle', rich: legRich } });
    const sv = p.st[k] == null ? '= -' : '= ' + p.st[k].toFixed(3);
    graphics.push({ type: 'text', z: 10, style: { x: vx, y: y, text: sv, fontFamily: FONT, fontSize: 15,
      fill: '#000', textVerticalAlign: 'middle', verticalAlign: 'middle' } });
  });
});

// y axis titles (one per row) and x axis titles (bottom row)
rowTop.forEach(t => {
  graphics.push({ type: 'text', z: 10, rotation: Math.PI / 2, x: 22, y: t + H / 2,
    style: { x: 0, y: 0, text: 'P S D / (k g  m){sup|2}/ s{sup|4}', fontFamily: FONT, fontSize: 21, lineHeight: 26,
      fill: '#222', textAlign: 'center', align: 'center', textVerticalAlign: 'middle', verticalAlign: 'middle',
      rich: { sup: { fontFamily: FONT, fontSize: 13, fill: '#222', verticalAlign: 'top', lineHeight: 13 } } } });
});
colLeft.forEach(l => {
  graphics.push({ type: 'text', z: 10, style: { x: l + W / 2, y: 1232,
    text: 'f{sub|L}{it|D} / U{sub|∞}', fontFamily: FONT, fontSize: 21, lineHeight: 26, fill: '#222',
    textAlign: 'center', align: 'center', textVerticalAlign: 'middle', verticalAlign: 'middle',
    rich: {
      sub: { fontFamily: FONT, fontSize: 14, fill: '#222', verticalAlign: 'bottom', lineHeight: 14 },
      it: { fontFamily: FONT, fontSize: 21, fontStyle: 'italic', fill: '#222', lineHeight: 26 }
    } } });
});

const chart = echarts.init(document.getElementById('chart'), null, { renderer: 'canvas' });
chart.setOption({
  backgroundColor: '#fff',
  animation: false,
  grid: grids,
  xAxis: xAxes,
  yAxis: yAxes,
  series: series,
  graphic: graphics
});
</script>
</body>
</html>
